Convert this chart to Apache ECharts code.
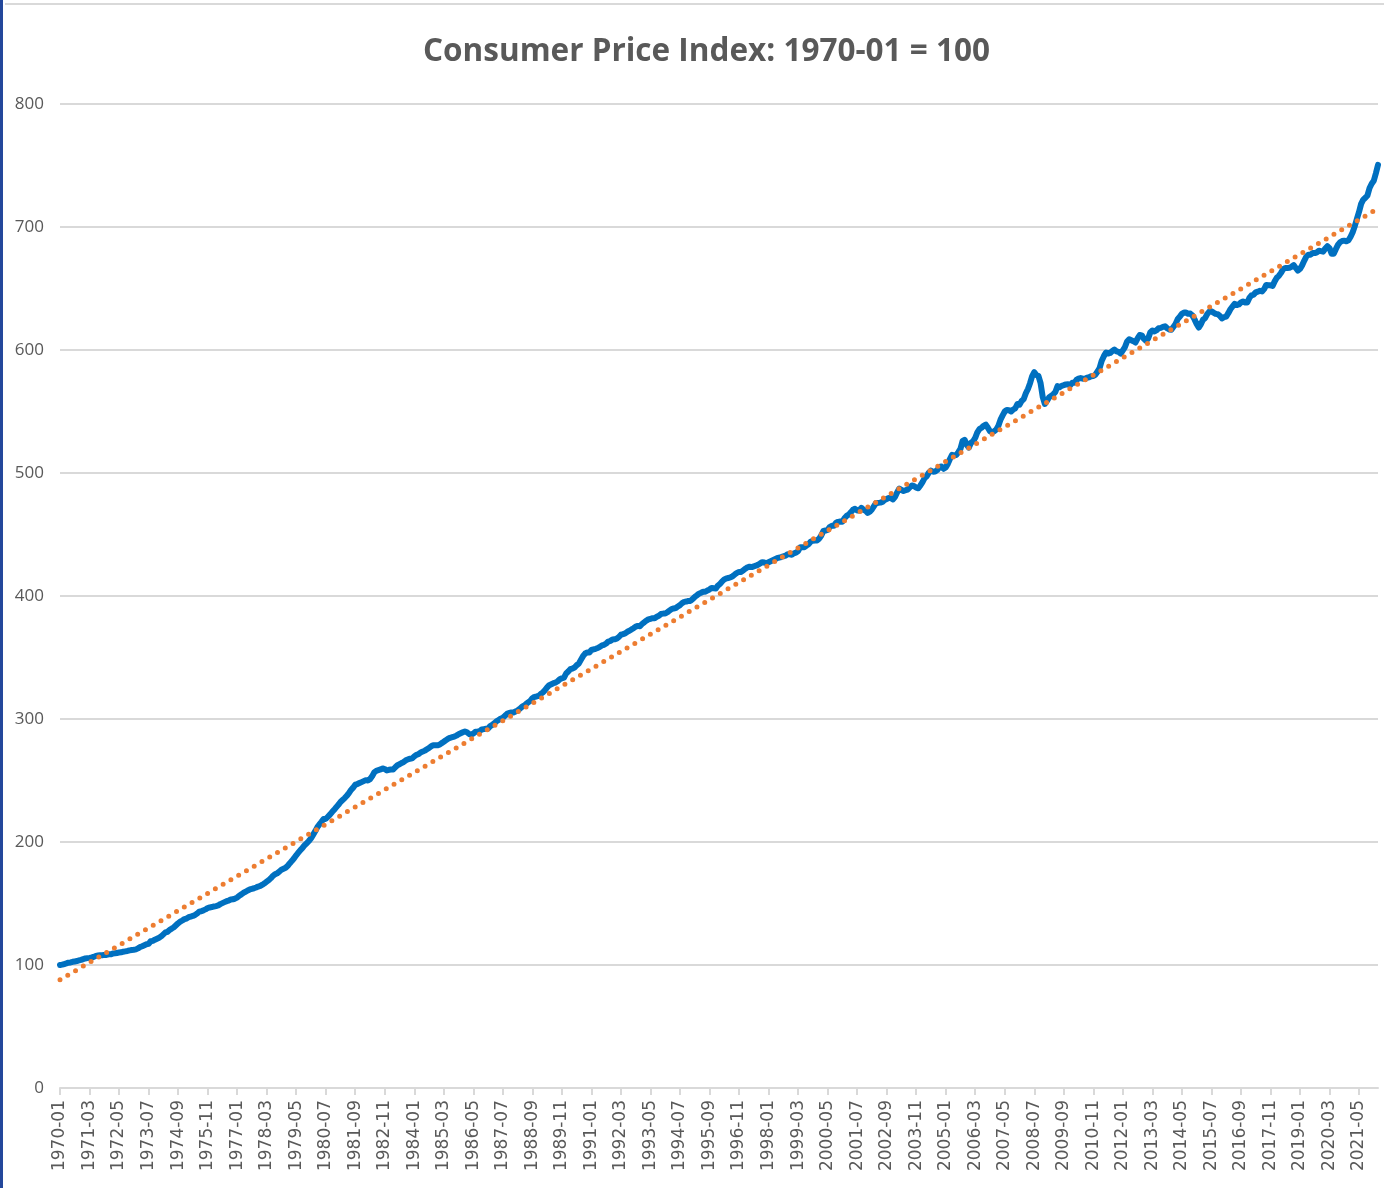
<!DOCTYPE html>
<html>
<head>
<meta charset="utf-8">
<title>Consumer Price Index</title>
<script src="https://cdn.jsdelivr.net/npm/echarts@6/dist/echarts.min.js"></script>
<style>
  html, body { margin: 0; padding: 0; background: #fff; }
  #chart { width: 1384px; height: 1188px; }
  .edge-left { position: absolute; left: 0; top: 0; width: 3px; height: 1188px; background: #23479b; }
  .edge-top { position: absolute; left: 5px; top: 3px; width: 1379px; height: 2px; background: #d9d9d9; }
</style>
</head>
<body>
<div id="chart"></div>
<div class="edge-left"></div>
<div class="edge-top"></div>
<script>
// monthly CPI readings, first month = 1970-01
const startYear = 1970;
const cpiU = [
  37.8, 37.9, 38.1, 38.3, 38.5, 38.6, 38.8, 38.9, 39.0, 39.2, 39.4, 39.6, // 1970
  39.8, 39.9, 40.0, 40.1, 40.3, 40.6, 40.7, 40.8, 40.8, 40.9, 40.9, 41.1, // 1971
  41.1, 41.3, 41.4, 41.5, 41.6, 41.7, 41.9, 42.0, 42.1, 42.3, 42.4, 42.5, // 1972
  42.6, 42.9, 43.3, 43.6, 43.9, 44.2, 44.3, 45.1, 45.2, 45.6, 45.9, 46.2, // 1973
  46.6, 47.2, 47.8, 48.0, 48.6, 49.0, 49.4, 50.0, 50.6, 51.1, 51.5, 51.9, // 1974
  52.1, 52.5, 52.7, 52.9, 53.2, 53.6, 54.2, 54.3, 54.6, 54.9, 55.3, 55.5, // 1975
  55.6, 55.8, 55.9, 56.1, 56.5, 56.8, 57.1, 57.4, 57.6, 57.9, 58.0, 58.2, // 1976
  58.5, 59.1, 59.5, 60.0, 60.3, 60.7, 61.0, 61.2, 61.4, 61.6, 61.9, 62.1, // 1977
  62.5, 62.9, 63.4, 63.9, 64.5, 65.2, 65.7, 66.0, 66.5, 67.1, 67.4, 67.7, // 1978
  68.3, 69.1, 69.8, 70.6, 71.5, 72.3, 73.1, 73.8, 74.6, 75.2, 75.9, 76.7, // 1979
  77.8, 78.9, 80.1, 81.0, 81.8, 82.7, 82.7, 83.3, 84.0, 84.8, 85.5, 86.3, // 1980
  87.0, 87.9, 88.5, 89.1, 89.8, 90.6, 91.6, 92.3, 93.2, 93.4, 93.7, 94.0, // 1981
  94.3, 94.6, 94.5, 94.9, 95.8, 97.0, 97.5, 97.7, 97.9, 98.2, 98.0, 97.6, // 1982
  97.8, 97.9, 97.9, 98.6, 99.2, 99.5, 99.9, 100.2, 100.7, 101.0, 101.2, 101.3, // 1983
  101.9, 102.4, 102.6, 103.1, 103.4, 103.7, 104.1, 104.5, 105.0, 105.3, 105.3, 105.3, // 1984
  105.5, 106.0, 106.4, 106.9, 107.3, 107.6, 107.8, 108.0, 108.3, 108.7, 109.0, 109.3, // 1985
  109.6, 109.3, 108.8, 108.6, 108.9, 109.5, 109.5, 109.7, 110.2, 110.3, 110.4, 110.5, // 1986
  111.2, 111.6, 112.1, 112.7, 113.1, 113.5, 113.8, 114.4, 115.0, 115.3, 115.4, 115.4, // 1987
  115.7, 116.0, 116.5, 117.1, 117.5, 118.0, 118.5, 119.0, 119.8, 120.2, 120.3, 120.5, // 1988
  121.1, 121.6, 122.3, 123.1, 123.8, 124.1, 124.4, 124.6, 125.0, 125.6, 125.9, 126.1, // 1989
  127.4, 128.0, 128.7, 128.9, 129.2, 129.9, 130.4, 131.6, 132.7, 133.5, 133.8, 133.8, // 1990
  134.6, 134.8, 135.0, 135.2, 135.6, 136.0, 136.2, 136.6, 137.2, 137.4, 137.8, 137.9, // 1991
  138.1, 138.6, 139.3, 139.5, 139.7, 140.2, 140.5, 140.9, 141.3, 141.8, 142.0, 141.9, // 1992
  142.6, 143.1, 143.6, 144.0, 144.2, 144.4, 144.4, 144.8, 145.1, 145.7, 145.8, 145.8, // 1993
  146.2, 146.7, 147.2, 147.4, 147.5, 148.0, 148.4, 149.0, 149.4, 149.5, 149.7, 149.7, // 1994
  150.3, 150.9, 151.4, 151.9, 152.2, 152.5, 152.5, 152.9, 153.2, 153.7, 153.6, 153.5, // 1995
  154.4, 154.9, 155.7, 156.3, 156.6, 156.7, 157.0, 157.3, 157.8, 158.3, 158.6, 158.6, // 1996
  159.1, 159.6, 160.0, 160.2, 160.1, 160.3, 160.5, 160.8, 161.2, 161.6, 161.5, 161.3, // 1997
  161.6, 161.9, 162.2, 162.5, 162.8, 163.0, 163.2, 163.4, 163.6, 164.0, 164.0, 163.9, // 1998
  164.3, 164.5, 165.0, 166.2, 166.2, 166.2, 166.7, 167.1, 167.9, 168.2, 168.3, 168.3, // 1999
  168.8, 169.8, 171.2, 171.3, 171.5, 172.4, 172.8, 172.8, 173.7, 174.0, 174.1, 174.0, // 2000
  175.1, 175.8, 176.2, 176.9, 177.7, 178.0, 177.5, 177.5, 178.3, 177.7, 177.4, 176.7, // 2001
  177.1, 177.8, 178.8, 179.8, 179.8, 179.9, 180.1, 180.7, 181.0, 181.3, 181.3, 180.9, // 2002
  181.7, 183.1, 184.2, 183.8, 183.5, 183.7, 183.9, 184.6, 185.2, 185.0, 184.5, 184.3, // 2003
  185.2, 186.2, 187.4, 188.0, 189.1, 189.7, 189.4, 189.5, 189.9, 190.9, 191.0, 190.3, // 2004
  190.7, 191.8, 193.3, 194.6, 194.4, 194.5, 195.4, 196.4, 198.8, 199.2, 197.6, 196.8, // 2005
  198.3, 198.7, 199.8, 201.5, 202.5, 202.9, 203.5, 203.9, 202.9, 201.8, 201.5, 201.8, // 2006
  202.4, 203.5, 205.4, 206.7, 207.9, 208.4, 208.3, 207.9, 208.5, 208.9, 210.2, 210.0, // 2007
  211.1, 211.7, 213.5, 214.8, 216.6, 218.8, 220.0, 219.1, 218.8, 216.6, 212.4, 210.2, // 2008
  211.1, 212.2, 212.7, 213.2, 213.9, 215.7, 215.4, 215.8, 216.0, 216.2, 216.3, 215.9, // 2009
  216.7, 216.7, 217.6, 218.0, 218.2, 218.0, 218.0, 218.3, 218.4, 218.7, 218.8, 219.2, // 2010
  220.2, 221.3, 223.5, 224.9, 226.0, 225.7, 225.9, 226.5, 226.9, 226.4, 226.2, 225.7, // 2011
  226.7, 227.7, 229.4, 230.1, 229.8, 229.5, 229.1, 230.4, 231.4, 231.3, 230.2, 229.6, // 2012
  230.3, 232.2, 232.8, 232.5, 232.9, 233.5, 233.6, 233.9, 234.1, 233.5, 233.1, 233.0, // 2013
  233.9, 234.8, 236.3, 237.1, 237.9, 238.3, 238.3, 237.9, 238.0, 237.4, 236.2, 234.8, // 2014
  233.7, 234.7, 236.1, 236.6, 237.8, 238.6, 238.7, 238.3, 237.9, 237.8, 237.3, 236.5, // 2015
  236.9, 237.1, 238.1, 239.3, 240.2, 241.0, 240.6, 240.8, 241.4, 241.7, 241.4, 241.4, // 2016
  242.8, 243.6, 243.8, 244.5, 244.7, 245.0, 244.8, 245.5, 246.8, 246.7, 246.7, 246.5, // 2017
  247.9, 249.0, 249.6, 250.5, 251.6, 252.0, 252.0, 252.1, 252.4, 252.9, 252.0, 251.2, // 2018
  251.7, 252.8, 254.2, 255.5, 256.1, 256.1, 256.6, 256.6, 256.8, 257.3, 257.2, 257.0, // 2019
  258.0, 258.7, 258.1, 256.4, 256.4, 257.8, 259.1, 259.9, 260.3, 260.4, 260.2, 260.5, // 2020
  261.6, 263.0, 264.9, 267.1, 269.2, 271.7, 273.0, 273.6, 274.3, 276.6, 277.9, 278.8, // 2021
  281.1, 283.7 // 2022
];

// dotted linear trend, ends
const trendEnds = [88, 715];

const yMin = 0;
const yMax = 800;
const yStep = 100;

const months = cpiU.map((v, i) => {
  const y = startYear + Math.floor(i / 12);
  const m = (i % 12) + 1;
  return y + "-" + (m < 10 ? "0" + m : m);
});

// 1970-01 = 100
const indexValues = cpiU.map((v) => +(v / cpiU[0] * 100).toFixed(1));
const last = months.length - 1;

const textColor = "#595959";

const chart = echarts.init(document.getElementById("chart"));

chart.setOption({
  backgroundColor: "transparent",
  animation: false,
  title: {
    text: "Consumer Price Index: 1970-01 = 100",
    left: 418,
    top: 31,
    textStyle: {
      fontFamily: "'Open Sans', sans-serif",
      fontSize: 31.5,
      fontWeight: "bold",
      color: textColor,
    },
  },
  grid: {
    left: 60,
    right: 6,
    top: 104,
    bottom: 100,
    containLabel: false,
  },
  xAxis: {
    type: "category",
    data: months,
    boundaryGap: false,
    axisLine: { lineStyle: { color: "#d9d9d9", width: 2 } },
    axisTick: {
      interval: 13,
      length: 7,
      lineStyle: { color: "#d9d9d9", width: 2 },
    },
    axisLabel: {
      interval: 13,
      rotate: 90,
      margin: 12,
      color: textColor,
      fontFamily: "'DejaVu Sans', sans-serif",
      fontSize: 17,
    },
    splitLine: { show: false },
  },
  yAxis: {
    type: "value",
    min: yMin,
    max: yMax,
    interval: yStep,
    axisLine: { show: false },
    axisTick: { show: false },
    axisLabel: {
      margin: 16,
      color: textColor,
      fontFamily: "'Open Sans', sans-serif",
      fontSize: 17,
    },
    splitLine: { lineStyle: { color: "#d9d9d9", width: 2 } },
  },
  series: [
    {
      name: "CPI",
      type: "line",
      data: indexValues,
      showSymbol: false,
      z: 3,
      lineStyle: { color: "#0070c0", width: 6, join: "round", cap: "round" },
    },
    {
      name: "Linear trend",
      type: "line",
      data: [[months[0], trendEnds[0]], [months[last], trendEnds[1]]],
      showSymbol: false,
      z: 4,
      lineStyle: { color: "#ed7d31", width: 5, type: [0, 9], cap: "round" },
    },
  ],
});

window.addEventListener("resize", () => chart.resize());
</script>
</body>
</html>
